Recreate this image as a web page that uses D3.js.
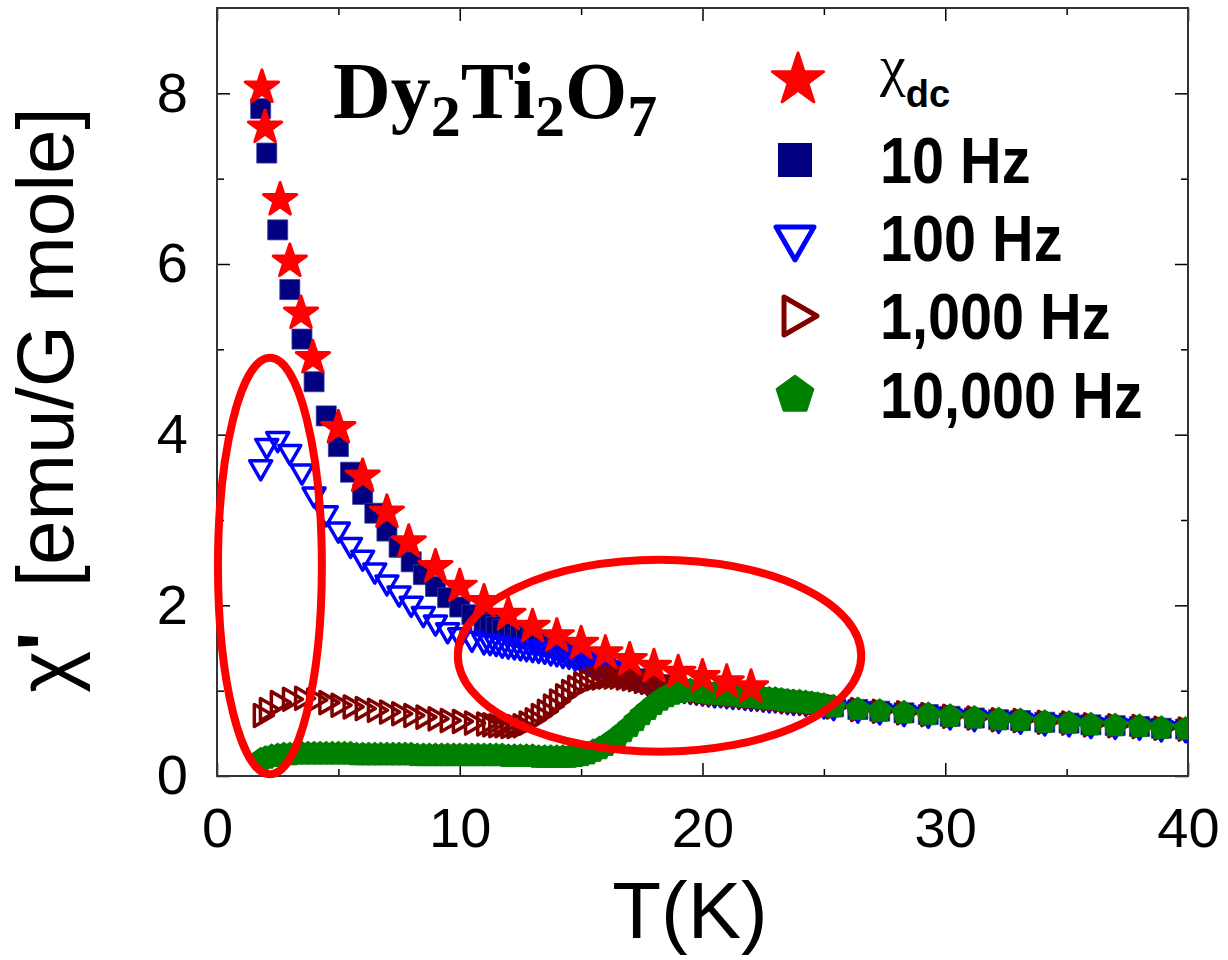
<!DOCTYPE html>
<html>
<head>
<meta charset="utf-8">
<script src="https://cdn.jsdelivr.net/npm/d3@7"></script>
<style>
  html, body { margin: 0; padding: 0; background: #fff; }
  svg { display: block; }
</style>
</head>
<body>
<svg id="chart" width="1228" height="960"></svg>
<script>
// ---- Data: real part of the ac susceptibility of Dy2Ti2O7 (emu/G mole) vs T (K) ----

// dc susceptibility
const tempDc = [1.85, 1.98, 2.6, 3.0, 3.46, 3.95, 5.0, 6.0, 7.0, 7.9, 9.0, 10.0, 11.0, 12.0,
  13.0, 14.0, 15.0, 16.0, 17.0, 18.0, 19.0, 20.0, 21.0, 22.0];
const chiDc = [8.07, 7.60, 6.75, 6.03, 5.42, 4.90, 4.08, 3.51, 3.09, 2.74, 2.45, 2.22, 2.04, 1.89,
  1.75, 1.64, 1.55, 1.44, 1.36, 1.28, 1.21, 1.16, 1.10, 1.04];

// temperature grids of the ac runs
const tempLow = [1.8, 2.05, 2.5, 3.0, 3.5, 4.0, 4.5, 5.0, 5.5, 6.0, 6.5, 7.0, 7.5, 8.0, 8.5, 9.0, 9.5, 10.0, 10.5];
const tempGreenLow = [1.8, 2.0, 2.25, 2.5, 2.75, 3.0, 3.25, 3.5, 3.75, 4.0, 4.25, 4.5, 4.75, 5.0, 5.25, 5.5,
  5.75, 6.0, 6.25, 6.5, 6.75, 7.0, 7.25, 7.5, 7.75, 8.0, 8.25, 8.5, 8.75, 9.0, 9.25, 9.5, 9.75, 10.0,
  10.25, 10.5, 10.75];
const tempMid = [11, 11.25, 11.5, 11.75, 12, 12.25, 12.5, 12.75, 13, 13.25, 13.5, 13.75, 14, 14.25,
  14.5, 14.75, 15, 15.25, 15.5, 15.75, 16, 16.25, 16.5, 16.75, 17, 17.25, 17.5, 17.75, 18, 18.25,
  18.5, 18.75, 19, 19.25, 19.5, 19.75, 20, 20.25, 20.5, 20.75, 21, 21.25, 21.5, 21.75, 22, 22.25,
  22.5, 22.75, 23, 23.25, 23.5, 23.75, 24, 24.25, 24.5, 24.75, 25];
const tempHigh = [25.4, 26.4, 27.3, 28.3, 29.3, 30.2, 31.2, 32.2, 33.1, 34.1, 35.1, 36.0, 37.0, 38.0, 38.9, 39.9];

// 10 Hz
const chi10Low = [7.82, 7.30, 6.40, 5.70, 5.12, 4.62, 4.22, 3.86, 3.56, 3.30, 3.08, 2.87, 2.68, 2.51,
  2.36, 2.22, 2.09, 1.98, 1.89];
const chi10Mid = [1.81, 1.78, 1.75, 1.72, 1.70, 1.67, 1.65, 1.62,
  1.60, 1.57, 1.55, 1.52, 1.50, 1.47, 1.44, 1.42,
  1.39, 1.36, 1.33, 1.30, 1.27, 1.24, 1.22, 1.19,
  1.16, 1.14, 1.12, 1.10, 1.08, 1.07, 1.05, 1.04,
  1.02, 1.01, 1.00, 0.99, 0.98, 0.97, 0.96, 0.96,
  0.95, 0.94, 0.94, 0.93, 0.92, 0.92, 0.91, 0.90,
  0.90, 0.89, 0.88, 0.87, 0.87, 0.86, 0.85, 0.84,
  0.83];

// 100 Hz
const chi100Low = [3.62, 3.87, 3.95, 3.80, 3.57, 3.30, 3.08, 2.89, 2.71, 2.56, 2.41, 2.27, 2.14, 2.02,
  1.90, 1.80, 1.71, 1.65, 1.61];
const chi100Mid = [1.58, 1.57, 1.56, 1.54, 1.53, 1.52, 1.51, 1.50,
  1.49, 1.48, 1.47, 1.45, 1.44, 1.42, 1.41, 1.39,
  1.37, 1.35, 1.32, 1.30, 1.27, 1.24, 1.22, 1.19,
  1.16, 1.14, 1.12, 1.10, 1.08, 1.07, 1.05, 1.04,
  1.02, 1.01, 1.00, 0.99, 0.98, 0.97, 0.96, 0.96,
  0.95, 0.94, 0.94, 0.93, 0.92, 0.92, 0.91, 0.90,
  0.90, 0.89, 0.88, 0.87, 0.87, 0.86, 0.85, 0.84,
  0.83];

// 1,000 Hz
const chi1kLow = [0.71, 0.78, 0.86, 0.90, 0.91, 0.89, 0.86, 0.83, 0.81, 0.79, 0.77, 0.75, 0.73, 0.71,
  0.69, 0.67, 0.65, 0.64, 0.62];
const chi1kMid = [0.61, 0.60, 0.59, 0.59, 0.58, 0.58, 0.59, 0.62,
  0.66, 0.71, 0.76, 0.82, 0.88, 0.94, 0.99, 1.04,
  1.08, 1.11, 1.14, 1.15, 1.16, 1.16, 1.16, 1.15,
  1.14, 1.13, 1.11, 1.10, 1.08, 1.07, 1.05, 1.04,
  1.02, 1.01, 1.00, 0.99, 0.98, 0.97, 0.96, 0.96,
  0.95, 0.94, 0.94, 0.93, 0.92, 0.92, 0.91, 0.90,
  0.90, 0.89, 0.88, 0.87, 0.87, 0.86, 0.85, 0.84,
  0.83];

// 10,000 Hz
const chi10kLow = [0.19, 0.21, 0.23, 0.24, 0.25, 0.25, 0.26, 0.26, 0.26, 0.26,
  0.26, 0.26, 0.26, 0.26, 0.26, 0.26, 0.25, 0.25, 0.25, 0.25,
  0.25, 0.25, 0.25, 0.25, 0.25, 0.25, 0.24, 0.24, 0.24, 0.24,
  0.24, 0.24, 0.24, 0.24, 0.24, 0.24, 0.24];
const chi10kMid = [0.24, 0.24, 0.24, 0.24, 0.23, 0.23, 0.23, 0.23,
  0.23, 0.22, 0.22, 0.22, 0.22, 0.22, 0.22, 0.23,
  0.24, 0.26, 0.29, 0.32, 0.36, 0.41, 0.46, 0.52,
  0.58, 0.65, 0.72, 0.78, 0.84, 0.89, 0.93, 0.96,
  0.98, 0.99, 1.00, 0.99, 0.98, 0.97, 0.96, 0.96,
  0.95, 0.94, 0.94, 0.93, 0.92, 0.92, 0.91, 0.90,
  0.90, 0.89, 0.88, 0.87, 0.87, 0.86, 0.85, 0.84,
  0.83];

// above 25 K all frequencies coincide
const chiAcHigh = [0.81, 0.78, 0.76, 0.74, 0.72, 0.70, 0.68, 0.66, 0.65, 0.63, 0.62, 0.60, 0.59, 0.58, 0.56, 0.55];

// axis ticks
const xMajorTicks = [0, 10, 20, 30, 40];
const xMinorTicks = [5, 15, 25, 35];
const yMajorTicks = [0, 2, 4, 6, 8];
const yMinorTicks = [1, 3, 5, 7];

// highlighted regions: [centre T, centre chi, half-width in K, half-height in chi]
const highlightLow = [2.18, 2.46, 2.14, 2.44];
const highlightMid = [18.23, 1.41, 8.31, 1.125];

const legendLabels = ["10 Hz", "100 Hz", "1,000 Hz", "10,000 Hz"];

// ---- helpers ----
const zip = (ts, vs) => ts.map((t, i) => ({ t, v: vs[i] }));

const series = {
  dc: zip(tempDc, chiDc),
  f10: zip([...tempLow, ...tempMid, ...tempHigh], [...chi10Low, ...chi10Mid, ...chiAcHigh]),
  f100: zip([...tempLow, ...tempMid, ...tempHigh], [...chi100Low, ...chi100Mid, ...chiAcHigh]),
  f1k: zip([...tempLow, ...tempMid, ...tempHigh], [...chi1kLow, ...chi1kMid, ...chiAcHigh]),
  f10k: zip([...tempGreenLow, ...tempMid, ...tempHigh], [...chi10kLow, ...chi10kMid, ...chiAcHigh])
};

// marker shapes
function polygonPath(pts) {
  const p = d3.path();
  pts.forEach((q, i) => i ? p.lineTo(q[0], q[1]) : p.moveTo(q[0], q[1]));
  p.closePath();
  return p.toString();
}
function triangleDown(side) {
  const h = side * Math.sqrt(3) / 2;
  return polygonPath([[-side / 2, -h / 3], [side / 2, -h / 3], [0, 2 * h / 3]]);
}
function triangleRight(side) {
  const h = side * Math.sqrt(3) / 2;
  return polygonPath([[-h / 3, -side / 2], [2 * h / 3, 0], [-h / 3, side / 2]]);
}
function pentagon(r) {
  const pts = d3.range(5).map(k => {
    const a = -Math.PI / 2 + k * 2 * Math.PI / 5;
    return [r * Math.cos(a), r * Math.sin(a)];
  });
  return polygonPath(pts);
}
const KA = 0.8908130915292852;
const star = R => d3.symbol(d3.symbolStar, R * R / KA)();
const square = s => d3.symbol(d3.symbolSquare, s * s)();

// ---- layout ----
const svg = d3.select("#chart");
const x = d3.scaleLinear().domain([0, 40]).range([217, 1188]);
const y = d3.scaleLinear().domain([0, 9]).range([776, 8]);

svg.append("defs").append("clipPath").attr("id", "plot-clip")
  .append("rect")
  .attr("x", x(0)).attr("y", y(9))
  .attr("width", x(40) - x(0)).attr("height", y(0) - y(9));

// ---- axes (ticks point inwards on all four sides) ----
const tickFont = "'Liberation Sans', Arial, sans-serif";

function styleAxis(g) {
  g.select(".domain").remove();
  g.selectAll(".tick line").attr("stroke", "#000").attr("stroke-width", 1.5);
  g.selectAll(".tick text").attr("font-family", tickFont).attr("font-size", 56).attr("fill", "#000");
}

svg.append("g").attr("transform", `translate(0,${y(0)})`)
  .call(d3.axisBottom(x).tickValues(xMajorTicks).tickSize(-13).tickPadding(31).tickFormat(d3.format("d")))
  .call(styleAxis);
svg.append("g").attr("transform", `translate(0,${y(0)})`)
  .call(d3.axisBottom(x).tickValues(xMinorTicks).tickSize(-7).tickFormat(""))
  .call(styleAxis);
svg.append("g").attr("transform", `translate(0,${y(9)})`)
  .call(d3.axisTop(x).tickValues(xMajorTicks).tickSize(-13).tickFormat(""))
  .call(styleAxis);
svg.append("g").attr("transform", `translate(0,${y(9)})`)
  .call(d3.axisTop(x).tickValues(xMinorTicks).tickSize(-7).tickFormat(""))
  .call(styleAxis);

svg.append("g").attr("transform", `translate(${x(0)},0)`)
  .call(d3.axisLeft(y).tickValues(yMajorTicks).tickSize(-13).tickPadding(29).tickFormat(d3.format("d")))
  .call(styleAxis);
svg.append("g").attr("transform", `translate(${x(0)},0)`)
  .call(d3.axisLeft(y).tickValues(yMinorTicks).tickSize(-7).tickFormat(""))
  .call(styleAxis);
svg.append("g").attr("transform", `translate(${x(40)},0)`)
  .call(d3.axisRight(y).tickValues(yMajorTicks).tickSize(-13).tickFormat(""))
  .call(styleAxis);
svg.append("g").attr("transform", `translate(${x(40)},0)`)
  .call(d3.axisRight(y).tickValues(yMinorTicks).tickSize(-7).tickFormat(""))
  .call(styleAxis);

// frame
svg.append("rect")
  .attr("x", x(0)).attr("y", y(9))
  .attr("width", x(40) - x(0)).attr("height", y(0) - y(9))
  .attr("fill", "none").attr("stroke", "#333").attr("stroke-width", 2);

// ---- data markers ----
const plot = svg.append("g").attr("clip-path", "url(#plot-clip)");

function drawSeries(data, path, style) {
  const g = plot.append("g");
  g.selectAll("path").data(data).enter().append("path")
    .attr("transform", d => `translate(${x(d.t)},${y(d.v)})`)
    .attr("d", path)
    .attr("fill", style.fill)
    .attr("stroke", style.stroke || "none")
    .attr("stroke-width", style.width || 0)
    .attr("stroke-linejoin", "round");
}

drawSeries(series.f10, square(20), { fill: "#000080", stroke: "#3a3a9a", width: 0.8 });
drawSeries(series.f100, triangleDown(22), { fill: "none", stroke: "#0000ff", width: 3.5 });
drawSeries(series.f1k, triangleRight(22), { fill: "none", stroke: "#800000", width: 3.5 });
drawSeries(series.f10k, pentagon(12.5), { fill: "#008000", stroke: "#008000", width: 1 });
drawSeries(series.dc, star(17.5), { fill: "#ff0000", stroke: "#ff0000", width: 3 });

// ---- highlighted regions ----
[highlightLow, highlightMid].forEach(e => {
  svg.append("ellipse")
    .attr("cx", x(e[0])).attr("cy", y(e[1]))
    .attr("rx", x(e[2]) - x(0)).attr("ry", y(0) - y(e[3]))
    .attr("fill", "none").attr("stroke", "#ff0000").attr("stroke-width", 8);
});

// ---- axis titles ----
svg.append("text")
  .attr("x", 690).attr("y", 938)
  .attr("text-anchor", "middle")
  .attr("font-family", tickFont).attr("font-size", 80)
  .text("T(K)");

const yTitle = svg.append("text")
  .attr("transform", "translate(73,400) rotate(-90)")
  .attr("text-anchor", "middle")
  .attr("font-family", tickFont).attr("font-size", 80);
yTitle.append("tspan").text("χ");
yTitle.append("tspan").attr("font-weight", "bold").text("'");
yTitle.append("tspan").text("\u00a0\u00a0[emu/G mole]");

// ---- compound label ----
const title = svg.append("text")
  .attr("x", 333).attr("y", 118)
  .attr("font-family", "'Liberation Serif', 'Times New Roman', serif")
  .attr("font-weight", "bold").attr("font-size", 80);
title.append("tspan").text("Dy");
title.append("tspan").attr("font-size", 60).attr("dy", 18).text("2");
title.append("tspan").attr("dy", -18).text("Ti");
title.append("tspan").attr("font-size", 60).attr("dy", 18).text("2");
title.append("tspan").attr("dy", -18).text("O");
title.append("tspan").attr("font-size", 60).attr("dy", 18).text("7");

// ---- legend ----
const legend = svg.append("g");
const legX = 795, legTextX = 880;
const rowBase = [107, 183, 261, 339, 418];

legend.append("path")
  .attr("transform", `translate(${legX + 3},${rowBase[0] - 27})`)
  .attr("d", star(27)).attr("fill", "#ff0000").attr("stroke", "#ff0000")
  .attr("stroke-width", 3).attr("stroke-linejoin", "round");
const chiLabel = legend.append("text").attr("x", legTextX).attr("y", rowBase[0] - 22);
chiLabel.append("tspan")
  .attr("font-family", "'Liberation Serif', 'Times New Roman', serif").attr("font-size", 58)
  .text("χ");
chiLabel.append("tspan")
  .attr("font-family", tickFont).attr("font-weight", "bold").attr("font-size", 38)
  .attr("dy", 22).text("dc");

const legendShapes = [
  { d: square(34), fill: "#000080", stroke: "none", w: 0 },
  { d: triangleDown(38), fill: "none", stroke: "#0000ff", w: 5 },
  { d: triangleRight(38), fill: "none", stroke: "#800000", w: 5 },
  { d: pentagon(20), fill: "#008000", stroke: "#008000", w: 1 }
];
legendLabels.forEach((lab, i) => {
  const base = rowBase[i + 1];
  const s = legendShapes[i];
  legend.append("path")
    .attr("transform", `translate(${legX},${base - 23})`)
    .attr("d", s.d).attr("fill", s.fill).attr("stroke", s.stroke)
    .attr("stroke-width", s.w).attr("stroke-linejoin", "round");
  legend.append("text")
    .attr("transform", `translate(${legTextX},${base}) scale(0.9,1)`)
    .attr("font-family", tickFont).attr("font-weight", "bold").attr("font-size", 64)
    .text(lab);
});
</script>
</body>
</html>
